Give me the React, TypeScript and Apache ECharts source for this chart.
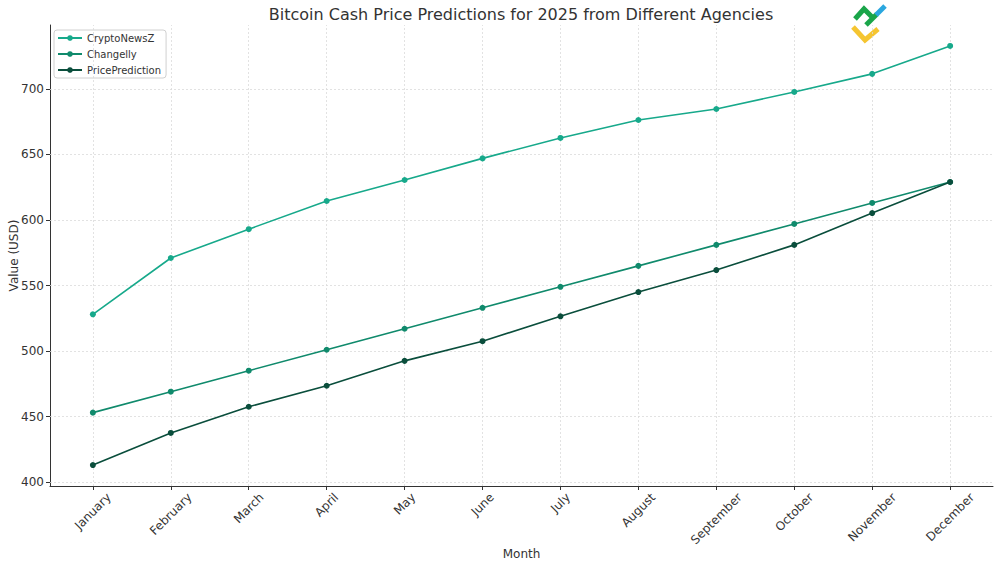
import React, { useEffect, useRef } from "react";
import * as echarts from "echarts";

const months = ["January", "February", "March", "April", "May", "June", "July", "August", "September", "October", "November", "December"];
const cryptoNewsZ = [528, 571, 593, 614.5, 630.5, 647, 662.6, 676.3, 684.7, 697.7, 711.5, 732.8];
const changelly = [453, 469, 485, 501, 517, 533, 549, 565, 581, 597, 613, 629];
const pricePrediction = [413, 437.5, 457.5, 473.5, 492.5, 507.5, 526.5, 545, 561.8, 581, 605.3, 629];
const yTicks = [400, 450, 500, 550, 600, 650, 700];

const seriesNames = ["CryptoNewsZ", "Changelly", "PricePrediction"];
const seriesColors = ["#17a98b", "#108a6c", "#0a4e3c"];

function measure(text: string, font: string): number {
  const c = document.createElement("canvas").getContext("2d");
  if (!c) return text.length * 7;
  c.font = font;
  return c.measureText(text).width;
}

export default function App() {
  const ref = useRef<HTMLDivElement>(null);
  useEffect(() => {
    if (!ref.current) return;
    const chart = echarts.init(ref.current, null, { renderer: "svg" });
    const all = [...cryptoNewsZ, ...changelly, ...pricePrediction];
    const lo = Math.min(...all);
    const hi = Math.max(...all);
    const pad = (hi - lo) * 0.05;
    const dataSets = [cryptoNewsZ, changelly, pricePrediction];
    const gridLine = { color: "#dadada", type: [2, 2] as any, width: 0.8 };
    const rich: any = {};
    const fh = 12;
    months.forEach((m, i) => {
      const L = measure(m, "12px 'DejaVu Sans'");
      const p = 0.5 * (L + fh);
      rich["m" + i] = { fontSize: 12, color: "#333333", fontFamily: "DejaVu Sans", padding: [p, p, 0, 0], lineHeight: fh };
    });
    const series: any[] = dataSets.map((d, k) => ({
      name: seriesNames[k],
      type: "line",
      data: d.map((v, i) => [i, v]),
      symbol: "circle",
      symbolSize: 6,
      lineStyle: { color: seriesColors[k], width: 1.6 },
      itemStyle: { color: seriesColors[k] },
      z: 5 + k,
    }));
    series.push({
      type: "line",
      data: [],
      silent: true,
      markLine: {
        silent: true,
        symbol: "none",
        label: { show: false },
        lineStyle: gridLine,
        animation: false,
        data: [
          ...yTicks.map((t) => ({ yAxis: t, lineStyle: gridLine })),
          ...months.map((_, i) => ({ xAxis: i, lineStyle: gridLine })),
        ],
      },
      z: 1,
    });
    chart.setOption({
      animation: false,
      backgroundColor: "#ffffff",
      textStyle: { fontFamily: "DejaVu Sans" },
      title: {
        text: "Bitcoin Cash Price Predictions for 2025 from Different Agencies",
        left: 516,
        textAlign: "center",
        top: 1,
        textStyle: { fontSize: 16, fontWeight: "normal", color: "#333333", fontFamily: "DejaVu Sans" },
      },
      legend: {
        orient: "vertical",
        left: 54,
        top: 30,
        itemGap: 6,
        itemWidth: 24,
        itemHeight: 7,
        padding: [3, 5, 3, 3],
        borderColor: "#d0d0d0",
        borderWidth: 1,
        borderRadius: 3,
        backgroundColor: "#ffffff",
        data: seriesNames,
        textStyle: { fontSize: 10, color: "#333333", fontFamily: "DejaVu Sans", padding: [0, 0, 0, 0] },
      },
      grid: { left: 50, right: 7, top: 25, bottom: 83, containLabel: false, outerBoundsMode: "none" },
      xAxis: {
        type: "value",
        min: -0.55,
        max: months.length - 1 + 0.55,
        splitNumber: 12,
        name: "Month",
        nameLocation: "middle",
        nameGap: 68,
        nameMoveOverlap: false,
        nameTextStyle: { fontSize: 12, color: "#333333", verticalAlign: "middle" },
        axisLine: { show: true, onZero: false, lineStyle: { color: "#333333", width: 1 } },
        axisTick: { show: true, length: 4, lineStyle: { color: "#333333" } },
        splitLine: { show: false },
        axisLabel: {
          rotate: 45,
          align: "center",
          verticalAlign: "middle",
          fontSize: 12,
          color: "#333333",
          margin: 5,
          showMinLabel: false,
          showMaxLabel: false,
          hideOverlap: false,
          rich,
          formatter: (v: number) => (Number.isInteger(v) && months[v] ? `{m${v}|${months[v]}}` : ""),
        },
      },
      yAxis: {
        type: "value",
        min: lo - pad,
        max: hi + pad,
        splitNumber: 7,
        name: "Value (USD)",
        nameLocation: "middle",
        nameGap: 30,
        nameMoveOverlap: false,
        nameTextStyle: { fontSize: 12, color: "#333333" },
        axisLine: { show: true, onZero: false, lineStyle: { color: "#333333", width: 1 } },
        axisTick: { show: true, length: 4, lineStyle: { color: "#333333" } },
        splitLine: { show: false },
        axisLabel: {
          fontSize: 12,
          color: "#333333",
          margin: 6,
          showMinLabel: false,
          showMaxLabel: false,
          formatter: (v: number) => (yTicks.includes(v) ? String(v) : ""),
        },
      },
      graphic: [
        { type: "polyline", shape: { points: [[853, 27], [865, 40], [878, 29]] }, style: { stroke: "#f5c531", lineWidth: 5, fill: null } },
        { type: "polyline", shape: { points: [[855, 19], [864, 9], [874, 19]] }, style: { stroke: "#1aa54a", lineWidth: 5, fill: null } },
        { type: "line", shape: { x1: 866, y1: 25, x2: 877, y2: 14 }, style: { stroke: "#1aa54a", lineWidth: 5 } },
        { type: "line", shape: { x1: 876, y1: 15, x2: 885, y2: 6 }, style: { stroke: "#2aa7df", lineWidth: 5 } },
      ],
      series,
    });
    return () => chart.dispose();
  }, []);
  return <div ref={ref} style={{ position: "fixed", left: 0, top: 0, width: 1000, height: 569 }} />;
}
